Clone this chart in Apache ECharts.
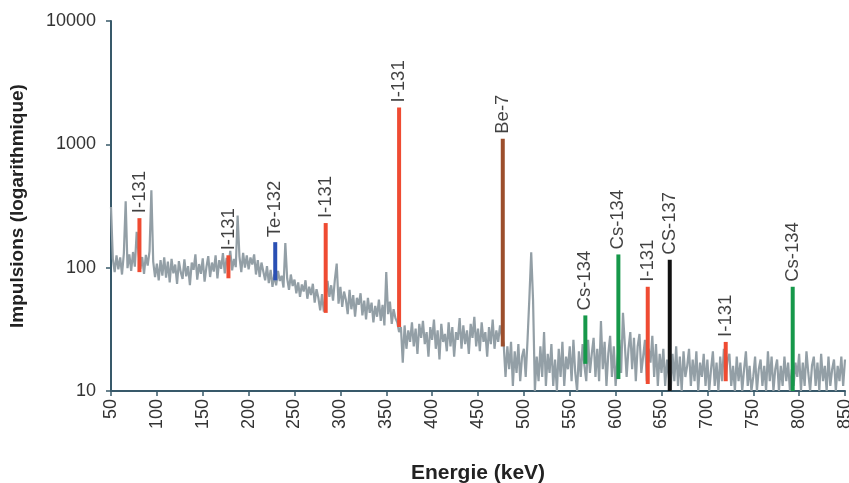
<!DOCTYPE html>
<html>
<head>
<meta charset="utf-8">
<script src="https://cdn.jsdelivr.net/npm/echarts@6/dist/echarts.min.js"></script>
<style>
html,body{margin:0;padding:0;background:#fff;}
#chart{width:849px;height:483px;}
</style>
</head>
<body>
<div id="chart"></div>
<script>
// Spectrum: channel energies start at 50 keV, 2 keV per channel
const ENERGY_START = 50;
const ENERGY_STEP = 2;
const counts = [
  310,118,92,126,97,    121,88,130,345,99,    128,94,134,102,195,   131,98,122,89,127,
  104,136,425,112,84,   108,79,115,86,121,    83,112,76,118,90,     106,74,113,92,81,
  117,85,103,72,110,    96,128,80,107,89,     119,77,101,124,84,    110,93,126,82,115,
  98,131,90,120,104,    137,95,118,101,265,   123,92,132,100,126,   97,121,106,128,88,
  115,84,110,93,79,     103,75,96,70,88,      72,94,78,86,69,       158,82,66,88,71,
  80,62,76,58,73,       64,79,56,70,60,       74,52,67,57,45,       61,44,56,78,58,
  72,54,80,108,51,      70,48,64,55,42,       66,46,60,40,57,       50,62,41,54,38,
  57,43,52,36,49,       40,55,37,50,34,       92,42,53,35,46,       39,36,30,33,17,
  34,22,31,25,36,       23,32,20,35,27,       37,24,30,19,33,       26,38,22,31,18,
  35,25,29,21,36,       23,33,19,30,26,       39,22,34,24,31,       20,35,27,40,23,
  32,21,36,25,30,       19,33,24,38,22,       31,25,34,28,24,       13,23,15,25,11,
  21,14,24,12,19,       22,13,26,57,133,      55,10,19,12,23,       13,30,11,20,14,
  24,11,18,10,22,       13,25,11,19,15,       23,12,26,14,10,       21,13,24,16,12,
  26,14,20,27,13,       22,12,37,15,25,       11,20,28,13,23,       11,18,26,14,43,
  24,13,22,30,15,       27,12,23,29,14,       19,26,12,22,17,       28,13,24,11,20,
  14,22,11,18,13,       10,20,12,23,11,       19,10,21,13,16,       22,11,18,12,21,
  10,17,13,20,11,       18,10,15,21,11,       17,10,19,12,22,       13,18,20,11,16,
  10,19,12,17,10,       15,21,11,16,10,       13,19,10,15,18,       11,16,10,21,12,
  19,10,15,18,10,       16,11,19,12,17,       10,15,11,17,13,       20,10,17,11,21,
  14,10,16,19,11,       17,10,20,12,16,       10,19,11,15,18,       10,16,12,19,11,
  18
];

// Identified peaks
const peakNames   = ['I-131','I-131','Te-132','I-131','I-131','Be-7','Cs-134','Cs-134','I-131','CS-137','I-131','Cs-134'];
const peakEnergy  = [81, 178, 229, 284, 364, 477, 567, 603, 635, 659, 720, 793];
const peakLow     = [92, 82, 79, 43, 33, 23, 16.6, 12.5, 11.4, 10, 12, 10];
const peakHigh    = [252, 126, 161, 230, 1990, 1110, 41, 128, 70, 116, 25, 70];
const peakColors  = ['#ef4b32','#ef4b32','#2a50b4','#ef4b32','#ef4b32','#9c4e2c','#16984a','#16984a','#ef4b32','#111111','#ef4b32','#16984a'];

const xTicks = { min: 50, max: 850, interval: 50 };
const yTicks = { min: 10, max: 10000 };

const FONT = 'Liberation Sans, Arial, sans-serif';
const spectrum = counts.map((v, i) => [ENERGY_START + i * ENERGY_STEP, v]);

const series = [{
  type: 'line',
  data: spectrum,
  symbol: 'none',
  lineStyle: { color: '#939fa6', width: 2.2 },
  z: 2,
  silent: true
}];

peakEnergy.forEach((e, i) => {
  series.push({
    type: 'line',
    data: [[e, peakLow[i]], [e, peakHigh[i]]],
    symbol: 'none',
    lineStyle: { color: peakColors[i], width: 4 },
    z: 3,
    silent: true
  });
});

series.push({
  type: 'scatter',
  data: peakEnergy.map((e, i) => ({ value: [e, peakHigh[i]], name: peakNames[i] })),
  symbolSize: 0,
  z: 4,
  silent: true,
  label: {
    show: true,
    position: 'top',
    distance: 5,
    rotate: 90,
    align: 'left',
    verticalAlign: 'middle',
    formatter: p => p.name,
    color: '#111',
    fontSize: 18.5,
    fontFamily: FONT
  }
});

const chart = echarts.init(document.getElementById('chart'), null, { renderer: 'canvas' });
chart.setOption({
  animation: false,
  backgroundColor: '#ffffff',
  grid: { left: 111, right: 4, top: 21, bottom: 92, containLabel: false, outerBoundsMode: 'none' },
  xAxis: {
    type: 'value',
    min: xTicks.min, max: xTicks.max, interval: xTicks.interval,
    name: 'Energie (keV)',
    nameLocation: 'middle',
    nameGap: 72,
    nameTextStyle: { fontSize: 21, fontWeight: 'bold', color: '#222', fontFamily: FONT },
    axisLine: { show: true, lineStyle: { color: '#38596a', width: 2 } },
    axisTick: { show: true, length: 5, lineStyle: { color: '#38596a', width: 1.5 } },
    axisLabel: { rotate: 90, fontSize: 18, color: '#333', margin: 8, fontFamily: FONT },
    splitLine: { show: false }
  },
  yAxis: {
    type: 'log',
    logBase: 10,
    min: yTicks.min, max: yTicks.max,
    name: 'Impulsions (logarithmique)',
    nameLocation: 'middle',
    nameGap: 84,
    nameTextStyle: { fontSize: 19, fontWeight: 'bold', color: '#222', fontFamily: FONT },
    axisLine: { show: true, lineStyle: { color: '#38596a', width: 2 } },
    axisTick: { show: true, length: 5, lineStyle: { color: '#38596a', width: 1.5 } },
    axisLabel: { fontSize: 18, color: '#333', margin: 15, fontFamily: FONT, formatter: v => String(v) },
    splitLine: { show: false },
    minorTick: { show: false }
  },
  series: series
});
</script>
</body>
</html>
